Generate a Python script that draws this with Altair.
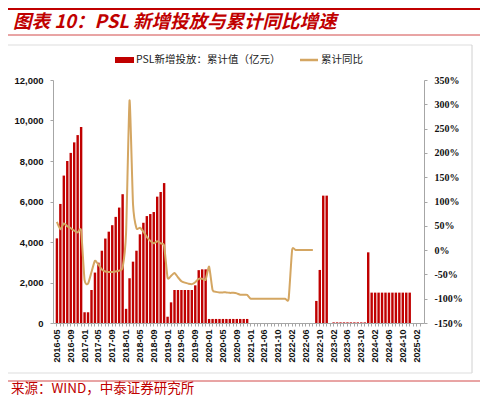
import json
import altair as alt
import pandas as pd

# ---------------- data ----------------
months = []
_y, _m = 2016, 5
while (_y, _m) <= (2025, 3):
    _s = f"{_y}-{_m:02d}"
    if _s != "2021-02":
        months.append(_s)
    _m += 1
    if _m > 12:
        _m, _y = 1, _y + 1

shown_labels = months[0::4]

# PSL new injections, YTD cumulative (100 million yuan)
psl_cum = [
    4180, 5880, 7280, 8000, 8400, 8920, 9280, 9680,                      # 2016-05..12
    530, 530, 1630, 2490, 2980, 3570, 4170, 4510, 4830, 5240, 5700, 6360,  # 2017
    700, 2210, 3030, 3570, 4380, 4950, 5280, 5380, 5480, 6240, 6470, 6910, # 2018
    310, 1020, 1630, 1630, 1630, 1630, 1630, 1630, 1860, 2610, 2650, 2650, # 2019
    200, 200, 200, 200, 200, 200, 200, 200, 200, 200, 200, 200,            # 2020
    None, None, None, None, None, None, None, None, None, None, None,      # 2021 (no 02)
    None, None, None, None, None, None, None, None, 1090, 2620, 6290, 6290, # 2022
    None, 30, 30, 30, 30, 30, 30, 30, 30, 30, 30, 3490,                    # 2023
    1500, 1500, 1500, 1500, 1500, 1500, 1500, 1500, 1500, 1500, 1500, 1500, # 2024
    None, None, None,                                                    # 2025-01..03
]

# cumulative YoY (%)
yoy = [
    58, 43, 55, 49, 45, 40, 36, 40,
    -62, -69, -45, -22, -30, -40, -44, -45, -45, -44, -42, -36,
    36, 308, 95, 45, 46, 38, 27, 19, 14, 18, 14, 9,
    -57, -53, -47, -56, -64, -67, -69, -70, -66, -59, -59, -61,
    -34, -82, -86, -87, -87, -87, -88, -88, -89, -92, -92, -92,
    -100, -100, -100, -100, -100, -100, -100, -100, -100, -100, -100,
    -100, 0, 0, 0, 0, 0, 0, 0, None, None, None, None,
    None, None, None, None, None, None, None, None, None, None, None, None,
    None, None, None, None, None, None, None, None, None, None, None, None,
    None, None, None,
]

left_ticks = [0, 2000, 4000, 6000, 8000, 10000, 12000]
right_ticks = [-150, -100, -50, 0, 50, 100, 150, 200, 250, 300, 350]

title_text = "图表 10：PSL 新增投放与累计同比增速"
legend_bar = "PSL新增投放：累计值（亿元）"
legend_line = "累计同比"
source_text = "来源：WIND，中泰证券研究所"

# ---------------- styling ----------------
RED = "#C00000"
TAN = "#D4A662"
GREY = "#a6a6a6"
W, H = 371, 243

df = pd.DataFrame({"month": months, "psl": psl_cum, "yoy": yoy})
df_bar = df[df["psl"].notna()]
df_line = df[df["yoy"].notna()]

label_expr = "indexof(" + json.dumps(shown_labels) + ", datum.value) >= 0 ? datum.value : ''"

x_enc = alt.X(
    "month:O",
    sort=months,
    scale=alt.Scale(domain=months, paddingInner=0.3, paddingOuter=0.78),
    axis=alt.Axis(
        title=None, labelAngle=270, labelExpr=label_expr, labelFont="Liberation Sans",
        labelFontWeight="bold", labelFontSize=9, labelColor="#111111", labelPadding=3,
        tickSize=3, tickColor=GREY, domainColor=GREY, grid=False,
    ),
)

bars = alt.Chart(df_bar).mark_bar(color=RED).encode(
    x=x_enc,
    y=alt.Y(
        "psl:Q",
        scale=alt.Scale(domain=[0, 12000], nice=False),
        axis=alt.Axis(
            title=None, values=left_ticks, format=",.0f", grid=False, orient="left",
            labelFont="Liberation Sans", labelFontWeight="bold", labelFontSize=9.5,
            labelColor="#111111", labelPadding=7, tickSize=3, tickColor=GREY, domainColor=GREY,
        ),
    ),
)

line = alt.Chart(df_line).mark_line(
    color=TAN, strokeWidth=2, interpolate="cardinal", tension=0.45
).encode(
    x=x_enc,
    y=alt.Y(
        "yoy:Q",
        scale=alt.Scale(domain=[-150, 350], nice=False, zero=False),
        axis=alt.Axis(
            title=None, values=right_ticks, labelExpr="datum.value + '%'", grid=False,
            orient="right", labelFont="Liberation Serif", labelFontWeight="bold",
            labelFontSize=10, labelColor="#111111", labelPadding=7, tickSize=3,
            tickColor=GREY, domainColor=GREY,
        ),
    ),
)

one = pd.DataFrame({"k": [0]})

def hrule(x1, x2, y, color, width):
    return alt.Chart(one).mark_rule(color=color, strokeWidth=width).encode(
        x=alt.value(x1), x2=alt.value(x2), y=alt.value(y))

def vrule(x, y1, y2, color, width):
    return alt.Chart(one).mark_rule(color=color, strokeWidth=width).encode(
        x=alt.value(x), y=alt.value(y1), y2=alt.value(y2))

def label(text, x, y, size, color="#000000", weight="normal", style="normal",
          font="Noto Sans CJK SC", baseline="middle"):
    return alt.Chart(one).mark_text(
        text=text, align="left", baseline=baseline, font=font, fontSize=size,
        fontWeight=weight, fontStyle=style, color=color,
    ).encode(x=alt.value(x), y=alt.value(y))

decor = [
    hrule(-45, 430, -71, RED, 2.2),
    label(title_text, -40, -58, 18.5, RED, "bold", "italic", baseline="middle"),
    hrule(-45, 430, -45, "#d24b4b", 1),
    hrule(-45, 419, -35, "#dddddd", 1),
    vrule(419, -35, 293, "#d0d0d0", 1),
    hrule(-45, 419, 293, "#dddddd", 1),
    alt.Chart(one).mark_rect(color=RED).encode(
        x=alt.value(62), x2=alt.value(81), y=alt.value(-23), y2=alt.value(-17)),
    label(legend_bar, 83, -20, 10.5, "#222222"),
    hrule(247, 265, -20, TAN, 2.5),
    label(legend_line, 268, -20, 10.5, "#222222"),
    hrule(-45, 430, 301, "#d24b4b", 1),
    label(source_text, -42, 309, 13.5, RED),
]

chart = alt.layer(bars, line, *decor).resolve_scale(y="independent").properties(
    width=W, height=H,
    padding={"left": 45, "top": 72, "right": 56, "bottom": 73},
    autosize=alt.AutoSizeParams(type="none"),
    background="white",
).configure_view(stroke=None)

chart.save("out.html", embed_options={"renderer": "svg", "actions": False})
